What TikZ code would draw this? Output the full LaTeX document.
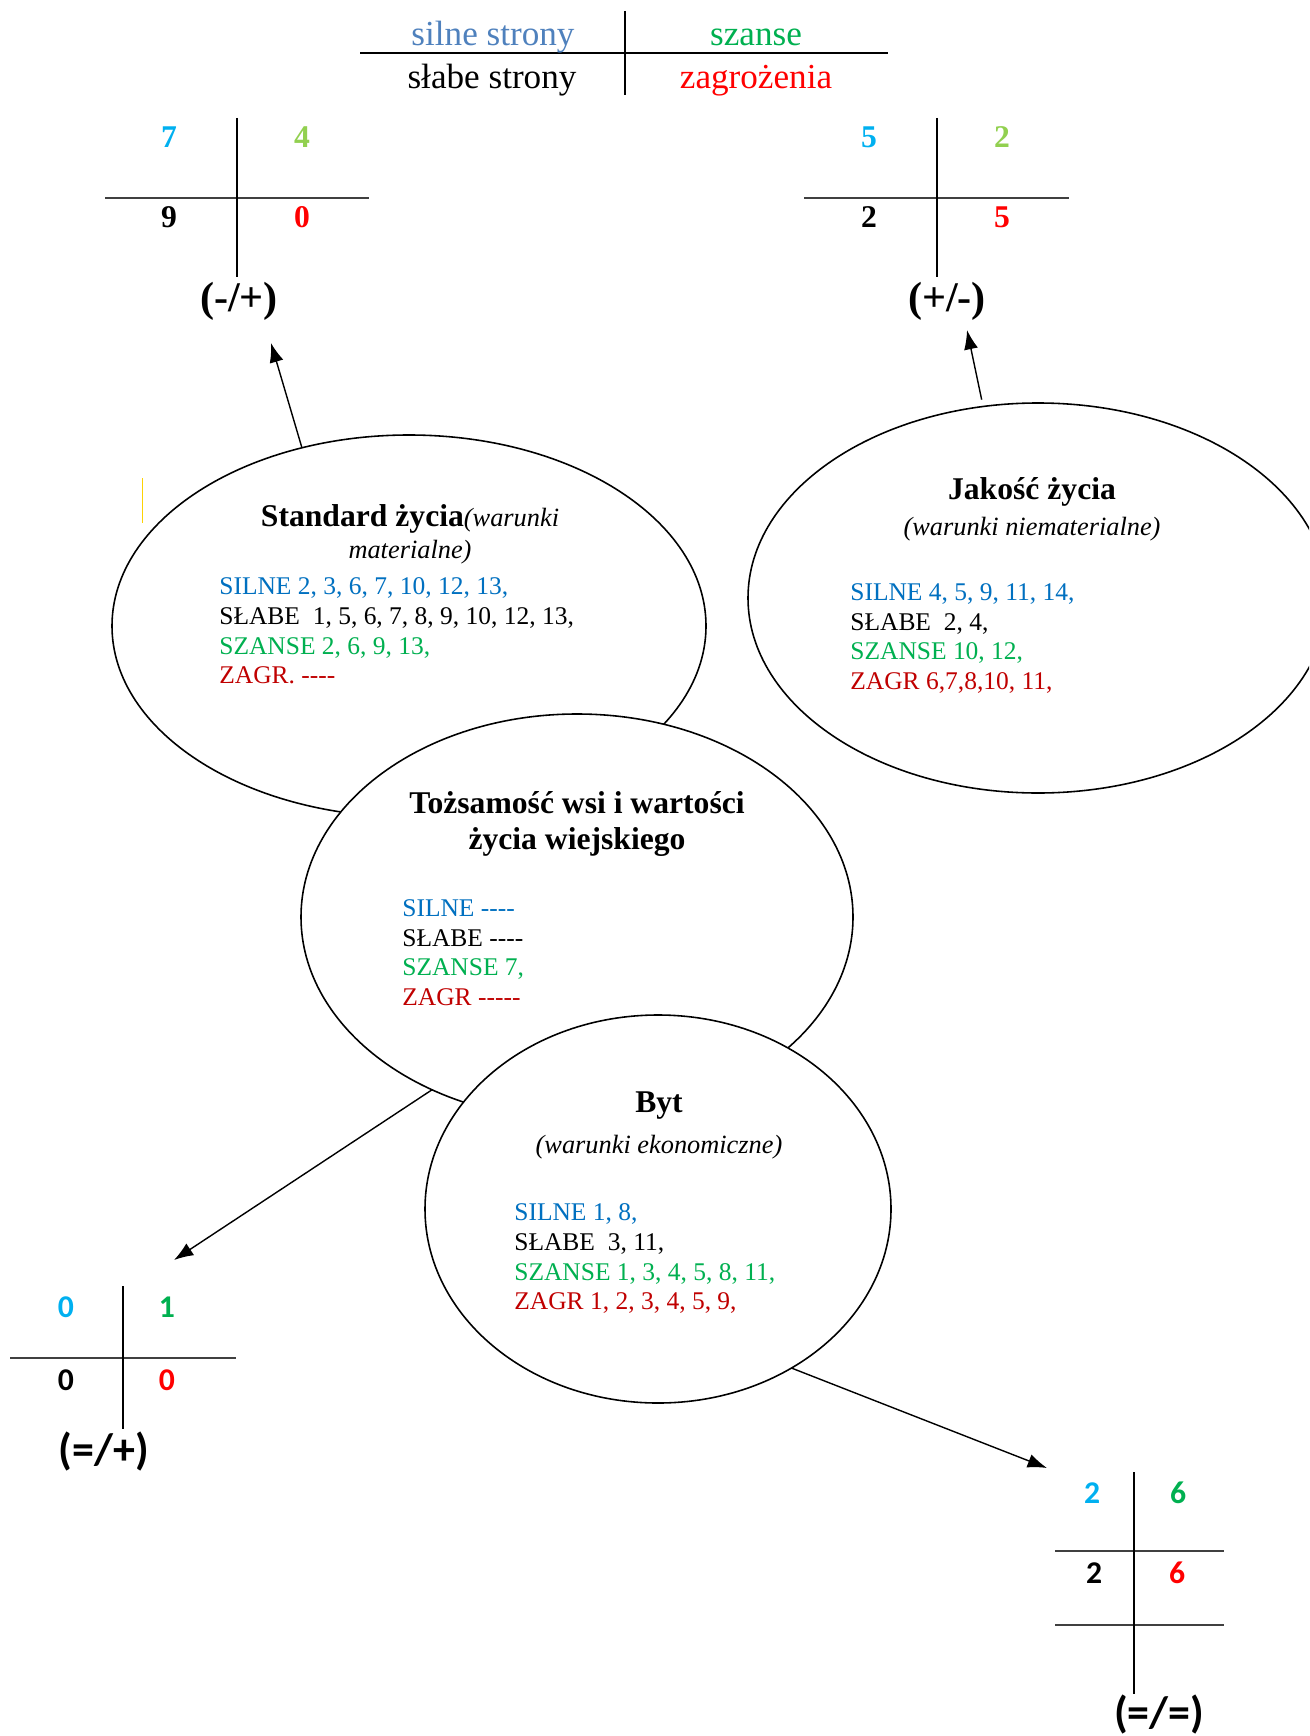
\documentclass[tikz,border=0pt]{standalone}
\usepackage{fontspec}
\setmainfont{Liberation Serif}
\newfontfamily\calibri{Carlito}
\usetikzlibrary{shapes.geometric,arrows.meta}

\definecolor{hdrblue}{RGB}{79,129,189}
\definecolor{szgreen}{RGB}{0,176,80}
\definecolor{zred}{RGB}{255,0,0}
\definecolor{silblue}{RGB}{0,112,192}
\definecolor{zagdark}{RGB}{192,0,0}
\definecolor{cyanish}{RGB}{0,176,240}
\definecolor{limegreen}{RGB}{146,208,80}

\tikzset{
  blob/.style={ellipse, draw, line width=0.9pt, fill=white, inner sep=0pt, outer sep=0pt},
  arr/.style={-{Latex[length=11pt,width=8pt]}, line width=0.8pt},
  lst/.style={anchor=north west, inner sep=0pt, align=left, font=\fontsize{14.5}{17}\selectfont},
  ttl/.style={anchor=base, inner sep=0pt, font=\fontsize{18}{20}\selectfont\bfseries},
  sub/.style={anchor=base, inner sep=0pt, font=\fontsize{15}{18}\selectfont\itshape},
  num/.style={font=\fontsize{18}{20}\selectfont\bfseries},
  cnum/.style={font=\fontsize{18}{20}\selectfont\calibri\bfseries},
  sign/.style={font=\fontsize{24}{26}\selectfont\bfseries},
  csign/.style={font=\fontsize{25}{27}\selectfont\calibri\bfseries},
  hdr/.style={anchor=base, inner sep=0pt, font=\fontsize{20}{22}\selectfont},
}

\begin{document}
\begin{tikzpicture}[x=0.2mm, y=-0.2mm]
	\clip (0,0) rectangle (1309,1736);

	% legend
	\draw[line width=0.7pt] (360,53) -- (888,53);
	\draw[line width=0.7pt] (625,11) -- (625,95);
	\node[hdr, text=hdrblue] (leg-s) at (493,46) {silne strony};
	\node[hdr, text=szgreen] (leg-sz) at (756,46) {szanse};
	\node[hdr] (leg-sl) at (492,89) {słabe strony};
	\node[hdr, text=zred] (leg-z) at (756,89) {zagrożenia};

	% table (-/+)
	\draw[line width=0.7pt, black!75] (105,198) -- (369,198);
	\draw[line width=0.7pt] (237,118) -- (237,277);
	\node[num, text=cyanish] (tl-s) at (169,137) {7};
	\node[num, text=limegreen] (tl-sz) at (302,137) {4};
	\node[num] (tl-sl) at (169,217) {9};
	\node[num, text=zred] (tl-z) at (302,217) {0};
	\node[sign] (tl-sign) at (239,301) {(-/+)};

	% table (+/-)
	\draw[line width=0.7pt, black!75] (804,198) -- (1069,198);
	\draw[line width=0.7pt] (937,118) -- (937,277);
	\node[num, text=cyanish] (tr-s) at (869,137) {5};
	\node[num, text=limegreen] (tr-sz) at (1002,137) {2};
	\node[num] (tr-sl) at (869,217) {2};
	\node[num, text=zred] (tr-z) at (1002,217) {5};
	\node[sign] (tr-sign) at (947,301) {(+/-)};

	% table (=/+)
	\draw[line width=0.7pt, black!75] (10,1358) -- (236,1358);
	\draw[line width=0.7pt] (123,1286) -- (123,1429);
	\node[cnum, text=cyanish] (bl-s) at (66,1307) {0};
	\node[cnum, text=szgreen] (bl-sz) at (167,1307) {1};
	\node[cnum] (bl-sl) at (66,1380) {0};
	\node[cnum, text=zred] (bl-z) at (167,1380) {0};
	\node[csign] (bl-sign) at (104,1452) {(=/+)};

	% table (=/=)
	\draw[line width=0.7pt, black!75] (1055,1551) -- (1224,1551);
	\draw[line width=0.7pt, black!75] (1055,1625) -- (1224,1625);
	\draw[line width=0.7pt] (1134,1472) -- (1134,1694);
	\node[cnum, text=cyanish] (br-s) at (1092,1493) {2};
	\node[cnum, text=szgreen] (br-sz) at (1178,1493) {6};
	\node[cnum] (br-sl) at (1094,1573) {2};
	\node[cnum, text=zred] (br-z) at (1177,1573) {6};
	\node[csign] (br-sign) at (1159,1714) {(=/=)};

	\draw[yellow!70!orange, line width=0.4pt] (142,478) -- (142,523);

	% Standard zycia
	\node[blob, minimum width=118.8mm, minimum height=76.4mm] (std) at (409,626) {};
	\node[ttl] (std-t) at (410,526) {Standard życia{\fontsize{15}{18}\selectfont\mdseries\itshape(warunki}};
	\node[sub] (std-u) at (410,558) {materialne)};
	\node[lst] (std-l) at (219,577) {\textcolor{silblue}{SILNE 2, 3, 6, 7, 10, 12, 13,}\\
		SŁABE\ \ 1, 5, 6, 7, 8, 9, 10, 12, 13,\\
		\textcolor{szgreen}{SZANSE 2, 6, 9, 13,}\\
		\textcolor{zagdark}{ZAGR. -{}-{}-{}-}};

	% Jakosc zycia
	\node[blob, minimum width=116mm, minimum height=78mm] (jak) at (1038,598) {};
	\node[ttl] (jak-t) at (1032,499) {Jakość życia};
	\node[sub] (jak-u) at (1032,535) {(warunki niematerialne)};
	\node[lst] (jak-l) at (850,583) {\textcolor{silblue}{SILNE 4, 5, 9, 11, 14,}\\
		SŁABE\ \ 2, 4,\\
		\textcolor{szgreen}{SZANSE 10, 12,}\\
		\textcolor{zagdark}{ZAGR 6,7,8,10, 11,}};

	% Tozsamosc
	\node[blob, minimum width=110.4mm, minimum height=81.2mm] (toz) at (577,917) {};
	\node[ttl] (toz-t) at (577,813) {Tożsamość wsi i wartości};
	\node[ttl] (toz-u) at (577,849) {życia wiejskiego};
	\node[lst] (toz-l) at (402,899) {\textcolor{silblue}{SILNE -{}-{}-{}-}\\
		SŁABE -{}-{}-{}-\\
		\textcolor{szgreen}{SZANSE 7,}\\
		\textcolor{zagdark}{ZAGR -{}-{}-{}-{}-}};

	% Byt
	\node[blob, minimum width=93.2mm, minimum height=77.6mm] (byt) at (658,1209) {};
	\node[ttl] (byt-t) at (659,1112) {Byt};
	\node[sub] (byt-u) at (659,1153) {(warunki ekonomiczne)};
	\node[lst] (byt-l) at (514,1203) {\textcolor{silblue}{SILNE 1, 8,}\\
		SŁABE\ \ 3, 11,\\
		\textcolor{szgreen}{SZANSE 1, 3, 4, 5, 8, 11,}\\
		\textcolor{zagdark}{ZAGR 1, 2, 3, 4, 5, 9,}};

	% arrows
	\coordinate (tip-tl) at (271,343);
	\coordinate (tip-tr) at (967,330);
	\coordinate (tip-bl) at (174,1260);
	\coordinate (tip-br) at (1047,1468);
	\draw[arr] (std.121) -- (tip-tl);
	\draw[arr, shorten <=4pt] (jak.106) -- (tip-tr);
	\draw[arr] (toz.230) -- (tip-bl);
	\draw[arr] (byt.310) -- (tip-br);
\end{tikzpicture}
\end{document}
